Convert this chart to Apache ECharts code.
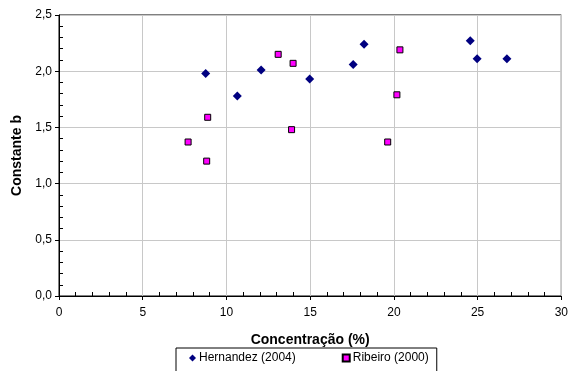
<!DOCTYPE html>
<html>
<head>
<meta charset="utf-8">
<script src="https://cdn.jsdelivr.net/npm/echarts@6/dist/echarts.min.js"></script>
<style>
  html, body { margin: 0; padding: 0; background: #fff; }
  #chart { width: 571px; height: 371px; }
</style>
</head>
<body>
<div id="chart"></div>
<script>
// Hernandez (2004)
const hernandezX = [8.76, 10.65, 12.07, 14.97, 17.57, 18.22, 24.56, 24.97, 26.75]
const hernandezY = [1.98, 1.78, 2.01, 1.93, 2.06, 2.24, 2.27, 2.11, 2.11]
// Ribeiro (2000)
const ribeiroX = [13.09, 13.98, 8.88, 7.71, 8.82, 13.89, 20.36, 20.18, 19.63]
const ribeiroY = [2.15, 2.07, 1.59, 1.37, 1.20, 1.48, 2.19, 1.79, 1.37]

const xTicks = [0, 5, 10, 15, 20, 25, 30]
const seriesNames = ['Hernandez (2004)', 'Ribeiro (2000)']

const pairs = (xs, ys) => xs.map((x, i) => [x, ys[i]])
const font = 'Liberation Sans, Arial, sans-serif'
const fmt = (v) => v.toFixed(1).replace('.', ',')

const chart = echarts.init(document.getElementById('chart'))

chart.setOption({
  animation: false,
  backgroundColor: '#fff',
  grid: {
    left: 59, right: 5, top: 15, bottom: 75,
    show: true, borderColor: '#000', borderWidth: 1
  },
  legend: {
    top: 348,
    left: 176,
    itemGap: 46,
    padding: [4, 8, 12, 13],
    borderColor: '#000',
    borderWidth: 1,
    itemWidth: 7,
    itemHeight: 7,
    textStyle: { fontFamily: font, fontSize: 12, color: '#000', padding: [0, 0, 0, -2] },
    data: [
      { name: seriesNames[0], icon: 'diamond' },
      { name: seriesNames[1], icon: 'rect' }
    ]
  },
  xAxis: [{
    type: 'value',
    min: xTicks[0], max: xTicks[xTicks.length - 1], interval: 5,
    name: 'Concentração (%)',
    nameLocation: 'middle',
    nameGap: 37,
    nameTextStyle: { fontFamily: font, fontSize: 14, fontWeight: 'bold', color: '#000' },
    axisLine: { lineStyle: { color: '#000', width: 1 } },
    axisTick: { show: true, length: 4, lineStyle: { color: '#000' } },
    axisLabel: { fontFamily: font, fontSize: 12, color: '#000', margin: 11 },
    splitLine: { show: true, lineStyle: { color: '#c8c8c8', width: 1 } }
  }, {
    type: 'value', position: 'bottom',
    min: xTicks[0], max: xTicks[xTicks.length - 1], interval: 5,
    axisLine: { show: false },
    axisTick: { show: false, inside: true },
    axisLabel: { show: false },
    splitLine: { show: false },
    minorTick: { show: true, splitNumber: 5, length: 4, lineStyle: { color: '#000' } }
  }],
  yAxis: [{
    type: 'value',
    min: 0, max: 2.5, interval: 0.5,
    name: 'Constante b',
    nameLocation: 'middle',
    nameGap: 34,
    nameTextStyle: { fontFamily: font, fontSize: 14, fontWeight: 'bold', color: '#000' },
    axisLine: { show: true, lineStyle: { color: '#000', width: 1 } },
    axisTick: { show: true, length: 4, lineStyle: { color: '#000' } },
    axisLabel: { fontFamily: font, fontSize: 12, color: '#000', margin: 7, formatter: fmt },
    splitLine: { show: true, lineStyle: { color: '#c8c8c8', width: 1 } }
  }, {
    type: 'value', position: 'left',
    min: 0, max: 2.5, interval: 0.5,
    axisLine: { show: false },
    axisTick: { show: false, inside: true },
    axisLabel: { show: false },
    splitLine: { show: false },
    minorTick: { show: true, splitNumber: 5, length: 4, lineStyle: { color: '#000' } }
  }],
  series: [{
    name: seriesNames[0],
    type: 'scatter',
    symbol: 'diamond',
    symbolSize: 9,
    itemStyle: { color: '#000080', opacity: 1 },
    data: pairs(hernandezX, hernandezY)
  }, {
    name: seriesNames[1],
    type: 'scatter',
    symbol: 'rect',
    symbolSize: 6,
    itemStyle: { color: '#ff00ff', borderColor: '#000', borderWidth: 1, opacity: 1 },
    data: pairs(ribeiroX, ribeiroY)
  }]
})
</script>
</body>
</html>
